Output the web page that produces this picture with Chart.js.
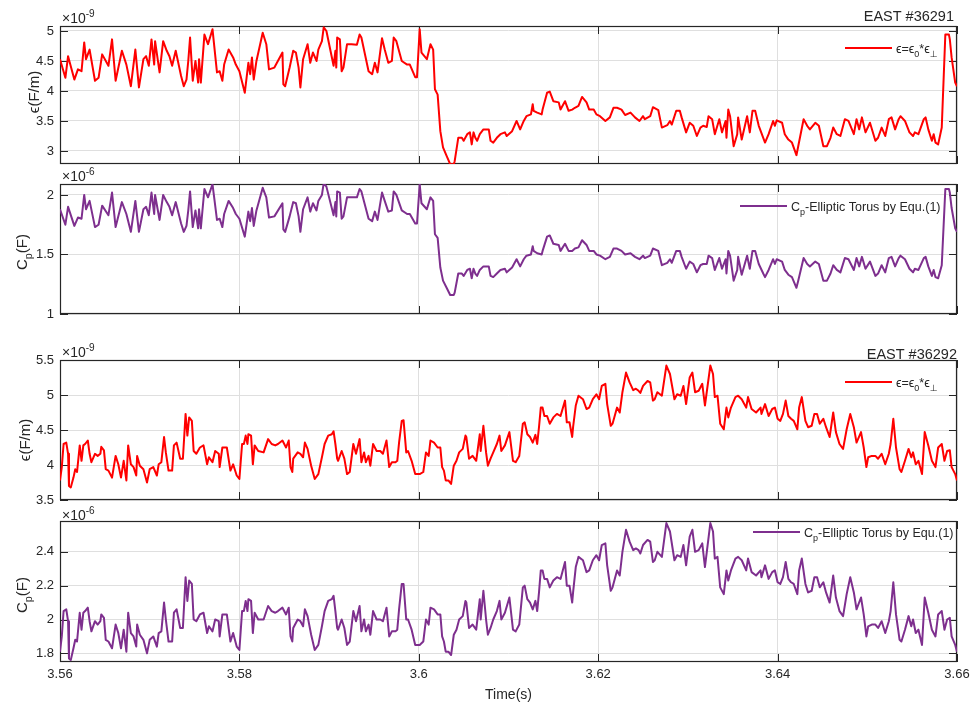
<!DOCTYPE html>
<html>
<head>
<meta charset="utf-8">
<script src="https://cdn.jsdelivr.net/npm/chart.js@4.4.0/dist/chart.umd.min.js"></script>
<style>
  html, body { margin: 0; padding: 0; background: #fff; }
  #wrap { position: relative; width: 975px; height: 705px; }
  #wrap canvas { position: absolute; left: 0; top: 0; }
</style>
</head>
<body>
<div id="wrap">
  <canvas id="c1" width="975" height="705"></canvas>
  <canvas id="c2" width="975" height="705"></canvas>
  <canvas id="c3" width="975" height="705"></canvas>
  <canvas id="c4" width="975" height="705"></canvas>
</div>
<script>
// shot EAST #36291 (time in s, eps in 1e-9 F/m, Cp in 1e-6 F)
const t36291 = [
  3.5600, 3.5606, 3.5609, 3.5616, 3.5620, 3.5624, 3.5627, 3.5629, 3.5633, 3.5639,
  3.5643, 3.5647, 3.5654, 3.5658, 3.5662, 3.5669, 3.5674, 3.5679, 3.5684, 3.5688,
  3.5693, 3.5696, 3.5699, 3.5702, 3.5705, 3.5706, 3.5711, 3.5715, 3.5719, 3.5722,
  3.5725, 3.5729, 3.5735, 3.5738, 3.5741, 3.5743, 3.5745, 3.5748, 3.5751, 3.5754,
  3.5755, 3.5757, 3.5761, 3.5765, 3.5770, 3.5775, 3.5778, 3.5781, 3.5783, 3.5788,
  3.5793, 3.5796, 3.5800, 3.5806, 3.5810, 3.5812, 3.5814, 3.5816, 3.5819, 3.5826,
  3.5830, 3.5833, 3.5839, 3.5848, 3.5849, 3.5851, 3.5856, 3.5860, 3.5863, 3.5866,
  3.5868, 3.5871, 3.5876, 3.5879, 3.5882, 3.5886, 3.5888, 3.5892, 3.5894, 3.5897,
  3.5905, 3.5907, 3.5908, 3.5909, 3.5912, 3.5914, 3.5916, 3.5920, 3.5925, 3.5931,
  3.5934, 3.5936, 3.5944, 3.5948, 3.5951, 3.5954, 3.5959, 3.5962, 3.5966, 3.5970,
  3.5972, 3.5975, 3.5981, 3.5987, 3.5990, 3.5996, 3.5998, 3.6001, 3.6003, 3.6009,
  3.6013, 3.6016, 3.6018, 3.6021, 3.6024, 3.6027, 3.6031, 3.6035, 3.6039, 3.6040,
  3.6044, 3.6048, 3.6050, 3.6054, 3.6057, 3.6059, 3.6061, 3.6063, 3.6065, 3.6068,
  3.6072, 3.6078, 3.6080, 3.6083, 3.6087, 3.6091, 3.6096, 3.6098, 3.6104, 3.6109,
  3.6113, 3.6117, 3.6120, 3.6125, 3.6127, 3.6128, 3.6132, 3.6137, 3.6138, 3.6143,
  3.6146, 3.6150, 3.6156, 3.6158, 3.6163, 3.6167, 3.6171, 3.6174, 3.6178, 3.6182,
  3.6187, 3.6190, 3.6195, 3.6198, 3.6202, 3.6208, 3.6213, 3.6217, 3.6221, 3.6226,
  3.6230, 3.6236, 3.6241, 3.6246, 3.6250, 3.6252, 3.6258, 3.6261, 3.6267, 3.6271,
  3.6277, 3.6280, 3.6282, 3.6287, 3.6291, 3.6293, 3.6298, 3.6302, 3.6306, 3.6310,
  3.6314, 3.6317, 3.6321, 3.6323, 3.6327, 3.6330, 3.6335, 3.6338, 3.6342, 3.6343,
  3.6345, 3.6347, 3.6351, 3.6355, 3.6356, 3.6360, 3.6366, 3.6369, 3.6372, 3.6375,
  3.6379, 3.6384, 3.6386, 3.6390, 3.6395, 3.6397, 3.6399, 3.6405, 3.6408, 3.6412,
  3.6416, 3.6421, 3.6423, 3.6429, 3.6433, 3.6436, 3.6442, 3.6446, 3.6451, 3.6455,
  3.6459, 3.6462, 3.6466, 3.6470, 3.6475, 3.6479, 3.6485, 3.6488, 3.6491, 3.6494,
  3.6498, 3.6503, 3.6509, 3.6512, 3.6516, 3.6520, 3.6524, 3.6527, 3.6531, 3.6535,
  3.6537, 3.6542, 3.6547, 3.6551, 3.6553, 3.6557, 3.6563, 3.6565, 3.6568, 3.6572,
  3.6574, 3.6576, 3.6579, 3.6583, 3.6587, 3.6591, 3.6592, 3.6594, 3.6598, 3.6600
];
const eps36291 = [
  4.53, 4.22, 4.58, 4.19, 4.36, 4.33, 4.81, 4.53, 4.69, 4.17,
  4.22, 4.61, 4.42, 4.86, 4.17, 4.67, 4.44, 4.08, 4.69, 4.06,
  4.53, 4.58, 4.42, 4.86, 4.44, 4.83, 4.31, 4.83, 4.67, 4.58,
  4.42, 4.67, 4.25, 4.08, 4.19, 4.50, 4.89, 4.17, 4.50, 4.14,
  4.53, 4.14, 4.94, 4.78, 5.03, 4.31, 4.33, 4.17, 4.44, 4.69,
  4.56, 4.44, 4.33, 3.97, 4.47, 4.28, 4.56, 4.19, 4.50, 4.97,
  4.78, 4.36, 4.39, 4.64, 4.11, 4.08, 4.39, 4.67, 4.64, 4.39,
  4.06, 4.53, 4.78, 4.47, 4.64, 4.50, 4.69, 4.83, 5.06, 5.00,
  4.42, 4.67, 4.39, 4.89, 4.86, 4.33, 4.39, 4.78, 4.78, 4.77,
  4.94, 4.89, 4.33, 4.28, 4.47, 4.31, 4.88, 4.69, 4.47, 4.50,
  4.89, 4.83, 4.50, 4.44, 4.44, 4.23, 4.23, 5.03, 4.64, 4.53,
  4.78, 4.69, 4.03, 3.94, 3.33, 3.06, 2.92, 2.78, 2.78, 2.83,
  3.22, 3.22, 3.17, 3.28, 3.31, 3.11, 3.31, 3.22, 3.17, 3.28,
  3.36, 3.36, 3.17, 3.14, 3.22, 3.28, 3.31, 3.25, 3.33, 3.50,
  3.36, 3.50, 3.58, 3.61, 3.78, 3.67, 3.64, 3.61, 3.69, 3.97,
  3.99, 3.83, 3.81, 3.69, 3.83, 3.67, 3.69, 3.72, 3.75, 3.90,
  3.81, 3.69, 3.69, 3.61, 3.58, 3.50, 3.56, 3.72, 3.72, 3.69,
  3.60, 3.64, 3.56, 3.50, 3.58, 3.53, 3.58, 3.73, 3.68, 3.39,
  3.43, 3.50, 3.44, 3.67, 3.67, 3.56, 3.31, 3.47, 3.42, 3.25,
  3.39, 3.42, 3.40, 3.58, 3.53, 3.28, 3.53, 3.31, 3.50, 3.22,
  3.69, 3.58, 3.08, 3.28, 3.56, 3.19, 3.58, 3.31, 3.67, 3.67,
  3.42, 3.22, 3.14, 3.28, 3.50, 3.42, 3.51, 3.47, 3.28, 3.19,
  3.14, 2.93, 3.08, 3.53, 3.42, 3.36, 3.47, 3.42, 3.08, 3.08,
  3.22, 3.39, 3.28, 3.25, 3.53, 3.50, 3.28, 3.53, 3.36, 3.56,
  3.31, 3.47, 3.17, 3.22, 3.39, 3.25, 3.53, 3.56, 3.36, 3.53,
  3.58, 3.50, 3.31, 3.25, 3.31, 3.28, 3.53, 3.56, 3.36, 3.17,
  3.28, 3.14, 3.11, 3.39, 4.94, 4.94, 4.86, 4.56, 4.14, 4.08
];
const cp36291 = [
  1.88, 1.75, 1.90, 1.74, 1.81, 1.80, 2.00, 1.88, 1.95, 1.73,
  1.75, 1.91, 1.83, 2.02, 1.73, 1.94, 1.84, 1.69, 1.95, 1.69,
  1.88, 1.90, 1.83, 2.02, 1.84, 2.00, 1.79, 2.00, 1.94, 1.90,
  1.83, 1.94, 1.76, 1.69, 1.74, 1.87, 2.03, 1.73, 1.87, 1.72,
  1.88, 1.72, 2.05, 1.98, 2.09, 1.79, 1.80, 1.73, 1.84, 1.95,
  1.89, 1.84, 1.80, 1.65, 1.86, 1.78, 1.89, 1.74, 1.87, 2.06,
  1.98, 1.81, 1.82, 1.93, 1.71, 1.69, 1.82, 1.94, 1.93, 1.82,
  1.69, 1.88, 1.98, 1.86, 1.93, 1.87, 1.95, 2.00, 2.10, 2.07,
  1.83, 1.94, 1.82, 2.03, 2.02, 1.80, 1.82, 1.98, 1.98, 1.98,
  2.05, 2.03, 1.80, 1.78, 1.86, 1.79, 2.02, 1.95, 1.86, 1.87,
  2.03, 2.00, 1.87, 1.84, 1.84, 1.76, 1.76, 2.09, 1.93, 1.88,
  1.98, 1.95, 1.67, 1.64, 1.39, 1.28, 1.22, 1.16, 1.16, 1.18,
  1.34, 1.34, 1.32, 1.37, 1.38, 1.30, 1.38, 1.34, 1.32, 1.37,
  1.40, 1.40, 1.32, 1.31, 1.34, 1.37, 1.38, 1.35, 1.39, 1.46,
  1.40, 1.46, 1.49, 1.50, 1.57, 1.53, 1.51, 1.50, 1.53, 1.65,
  1.66, 1.59, 1.58, 1.53, 1.59, 1.53, 1.53, 1.55, 1.56, 1.62,
  1.58, 1.53, 1.53, 1.50, 1.49, 1.46, 1.48, 1.55, 1.55, 1.53,
  1.50, 1.51, 1.48, 1.46, 1.49, 1.47, 1.49, 1.55, 1.53, 1.41,
  1.43, 1.46, 1.43, 1.53, 1.53, 1.48, 1.38, 1.44, 1.42, 1.35,
  1.41, 1.42, 1.42, 1.49, 1.47, 1.37, 1.47, 1.38, 1.46, 1.34,
  1.53, 1.49, 1.28, 1.37, 1.48, 1.33, 1.49, 1.38, 1.53, 1.53,
  1.42, 1.34, 1.31, 1.37, 1.46, 1.42, 1.46, 1.44, 1.37, 1.33,
  1.31, 1.22, 1.28, 1.47, 1.42, 1.40, 1.44, 1.42, 1.28, 1.28,
  1.34, 1.41, 1.37, 1.35, 1.47, 1.46, 1.37, 1.47, 1.40, 1.48,
  1.38, 1.44, 1.32, 1.34, 1.41, 1.35, 1.47, 1.48, 1.40, 1.47,
  1.49, 1.46, 1.38, 1.35, 1.38, 1.37, 1.47, 1.48, 1.40, 1.32,
  1.37, 1.31, 1.30, 1.41, 2.05, 2.05, 2.02, 1.89, 1.72, 1.69
];

// shot EAST #36292
const t36292 = [
  3.5600, 3.5602, 3.5604, 3.5607, 3.5609, 3.5610, 3.5612, 3.5615, 3.5617, 3.5619,
  3.5622, 3.5624, 3.5626, 3.5628, 3.5631, 3.5633, 3.5635, 3.5639, 3.5642, 3.5645,
  3.5646, 3.5649, 3.5651, 3.5654, 3.5658, 3.5662, 3.5665, 3.5668, 3.5671, 3.5674,
  3.5676, 3.5679, 3.5682, 3.5685, 3.5686, 3.5689, 3.5693, 3.5697, 3.5700, 3.5704,
  3.5708, 3.5710, 3.5713, 3.5716, 3.5718, 3.5721, 3.5725, 3.5727, 3.5730, 3.5734,
  3.5737, 3.5740, 3.5742, 3.5744, 3.5747, 3.5749, 3.5752, 3.5756, 3.5760, 3.5764,
  3.5766, 3.5770, 3.5773, 3.5777, 3.5778, 3.5781, 3.5786, 3.5790, 3.5793, 3.5797,
  3.5800, 3.5803, 3.5805, 3.5807, 3.5809, 3.5810, 3.5813, 3.5815, 3.5817, 3.5821,
  3.5827, 3.5832, 3.5836, 3.5840, 3.5843, 3.5848, 3.5852, 3.5855, 3.5857, 3.5859,
  3.5860, 3.5865, 3.5868, 3.5871, 3.5873, 3.5876, 3.5880, 3.5884, 3.5888, 3.5892,
  3.5895, 3.5899, 3.5903, 3.5905, 3.5907, 3.5909, 3.5910, 3.5914, 3.5917, 3.5920,
  3.5923, 3.5927, 3.5930, 3.5934, 3.5936, 3.5939, 3.5941, 3.5944, 3.5946, 3.5949,
  3.5953, 3.5957, 3.5960, 3.5964, 3.5967, 3.5970, 3.5974, 3.5976, 3.5978, 3.5981,
  3.5983, 3.5986, 3.5988, 3.5992, 3.5996, 3.6001, 3.6005, 3.6008, 3.6011, 3.6013,
  3.6017, 3.6021, 3.6024, 3.6026, 3.6028, 3.6030, 3.6033, 3.6036, 3.6039, 3.6042,
  3.6045, 3.6049, 3.6052, 3.6053, 3.6056, 3.6060, 3.6064, 3.6068, 3.6069, 3.6072,
  3.6075, 3.6077, 3.6080, 3.6083, 3.6087, 3.6090, 3.6092, 3.6096, 3.6101, 3.6105,
  3.6108, 3.6112, 3.6116, 3.6118, 3.6121, 3.6124, 3.6127, 3.6130, 3.6132, 3.6134,
  3.6136, 3.6138, 3.6140, 3.6143, 3.6146, 3.6150, 3.6154, 3.6158, 3.6163, 3.6165,
  3.6168, 3.6171, 3.6172, 3.6175, 3.6178, 3.6183, 3.6187, 3.6190, 3.6194, 3.6198,
  3.6201, 3.6204, 3.6208, 3.6210, 3.6214, 3.6216, 3.6221, 3.6224, 3.6227, 3.6231,
  3.6235, 3.6239, 3.6242, 3.6245, 3.6247, 3.6250, 3.6255, 3.6258, 3.6261, 3.6263,
  3.6266, 3.6271, 3.6276, 3.6280, 3.6285, 3.6288, 3.6292, 3.6295, 3.6298, 3.6302,
  3.6305, 3.6308, 3.6312, 3.6316, 3.6319, 3.6325, 3.6328, 3.6330, 3.6333, 3.6336,
  3.6340, 3.6343, 3.6345, 3.6348, 3.6353, 3.6356, 3.6360, 3.6365, 3.6367, 3.6371,
  3.6376, 3.6381, 3.6382, 3.6386, 3.6390, 3.6394, 3.6397, 3.6400, 3.6403, 3.6406,
  3.6409, 3.6412, 3.6415, 3.6418, 3.6422, 3.6424, 3.6427, 3.6431, 3.6434, 3.6438,
  3.6441, 3.6444, 3.6447, 3.6451, 3.6454, 3.6458, 3.6462, 3.6465, 3.6469, 3.6473,
  3.6477, 3.6481, 3.6485, 3.6488, 3.6493, 3.6496, 3.6499, 3.6501, 3.6505, 3.6509,
  3.6512, 3.6516, 3.6520, 3.6524, 3.6526, 3.6529, 3.6532, 3.6536, 3.6538, 3.6542,
  3.6546, 3.6549, 3.6551, 3.6554, 3.6557, 3.6561, 3.6564, 3.6568, 3.6572, 3.6576,
  3.6579, 3.6583, 3.6586, 3.6589, 3.6592, 3.6594, 3.6598, 3.6600
];
const eps36292 = [
  3.78, 3.97, 4.30, 4.32, 4.16, 3.70, 3.68, 3.82, 3.94, 3.90,
  4.28, 4.06, 4.28, 4.30, 4.35, 4.16, 4.04, 4.16, 4.13, 4.16,
  4.26, 4.21, 3.94, 3.92, 3.82, 4.13, 4.01, 3.82, 4.06, 3.78,
  4.28, 4.01, 3.97, 3.85, 4.13, 3.99, 3.94, 3.75, 3.94, 3.97,
  3.85, 4.01, 4.04, 4.40, 4.18, 3.92, 3.92, 4.28, 4.32, 4.09,
  4.09, 4.73, 4.42, 4.68, 4.63, 4.20, 4.16, 4.25, 4.28, 4.01,
  4.11, 4.04, 4.20, 4.16, 3.97, 4.25, 4.25, 3.92, 4.01, 3.85,
  3.80, 4.30, 4.30, 4.42, 4.30, 4.44, 4.42, 4.01, 4.28, 4.20,
  4.18, 4.37, 4.30, 4.28, 4.30, 4.35, 4.25, 4.35, 3.97, 3.90,
  4.09, 4.18, 4.16, 4.11, 4.32, 4.23, 3.99, 3.80, 3.87, 4.11,
  4.30, 4.42, 4.44, 4.48, 4.30, 4.09, 4.06, 4.20, 4.09, 3.87,
  3.90, 4.30, 4.16, 4.37, 4.04, 4.18, 4.04, 4.13, 3.99, 4.30,
  4.20, 4.20, 4.16, 4.35, 3.97, 4.04, 4.04, 4.06, 4.32, 4.63,
  4.64, 4.18, 4.20, 4.06, 3.87, 3.87, 3.90, 4.18, 4.13, 4.35,
  4.32, 4.25, 4.25, 3.97, 3.92, 3.78, 3.78, 3.73, 3.99, 4.06,
  4.18, 4.23, 4.42, 4.40, 4.09, 4.13, 4.06, 4.44, 4.20, 4.56,
  4.18, 3.99, 4.09, 4.18, 4.30, 4.42, 4.20, 4.28, 4.47, 4.06,
  4.04, 4.13, 4.59, 4.61, 4.44, 4.40, 4.32, 4.43, 4.30, 4.54,
  4.82, 4.82, 4.70, 4.70, 4.59, 4.68, 4.73, 4.70, 4.92, 4.61,
  4.61, 4.40, 4.54, 4.85, 4.99, 4.94, 4.80, 4.82, 4.94, 5.01,
  4.94, 5.13, 5.16, 4.87, 4.56, 4.59, 4.82, 4.75, 5.04, 5.32,
  5.18, 5.07, 5.09, 5.06, 5.03, 5.13, 5.20, 5.18, 4.92, 4.94,
  5.04, 4.99, 5.42, 5.30, 4.94, 5.01, 4.99, 5.13, 4.87, 5.25,
  5.32, 5.04, 5.06, 5.16, 4.85, 5.42, 5.30, 4.97, 4.99, 4.59,
  4.51, 4.82, 4.68, 4.82, 4.97, 4.99, 4.94, 4.82, 4.97, 4.80,
  4.75, 4.82, 4.73, 4.87, 4.70, 4.80, 4.82, 4.66, 4.63, 4.73,
  4.92, 4.70, 4.66, 4.63, 4.51, 4.82, 4.97, 4.63, 4.54, 4.56,
  4.73, 4.73, 4.59, 4.66, 4.54, 4.40, 4.75, 4.47, 4.30, 4.23,
  4.51, 4.73, 4.54, 4.32, 4.47, 4.25, 3.97, 4.11, 4.13, 4.13,
  4.09, 4.16, 4.01, 4.16, 4.30, 4.66, 4.25, 3.94, 3.90, 4.06,
  4.23, 4.11, 4.18, 4.01, 4.06, 3.87, 4.47, 4.28, 4.06, 3.97,
  4.25, 4.30, 4.06, 4.20, 4.21, 3.97, 3.87, 3.78
];
const cp36292 = [
  1.81, 1.90, 2.05, 2.06, 1.99, 1.77, 1.76, 1.83, 1.88, 1.87,
  2.04, 1.94, 2.04, 2.05, 2.07, 1.99, 1.93, 1.99, 1.97, 1.99,
  2.03, 2.01, 1.88, 1.87, 1.83, 1.97, 1.92, 1.83, 1.94, 1.81,
  2.04, 1.92, 1.90, 1.84, 1.97, 1.91, 1.88, 1.80, 1.88, 1.90,
  1.84, 1.92, 1.93, 2.10, 2.00, 1.87, 1.87, 2.04, 2.06, 1.95,
  1.95, 2.25, 2.11, 2.23, 2.21, 2.00, 1.99, 2.03, 2.04, 1.92,
  1.96, 1.93, 2.00, 1.99, 1.90, 2.03, 2.03, 1.87, 1.92, 1.84,
  1.82, 2.05, 2.05, 2.11, 2.05, 2.12, 2.11, 1.92, 2.04, 2.00,
  2.00, 2.08, 2.05, 2.04, 2.05, 2.07, 2.03, 2.07, 1.90, 1.87,
  1.95, 2.00, 1.99, 1.96, 2.06, 2.02, 1.91, 1.82, 1.85, 1.96,
  2.05, 2.11, 2.12, 2.14, 2.05, 1.95, 1.94, 2.00, 1.95, 1.85,
  1.87, 2.05, 1.99, 2.08, 1.93, 2.00, 1.93, 1.97, 1.91, 2.05,
  2.00, 2.00, 1.99, 2.07, 1.90, 1.93, 1.93, 1.94, 2.06, 2.21,
  2.21, 2.00, 2.00, 1.94, 1.85, 1.85, 1.87, 2.00, 1.97, 2.07,
  2.06, 2.03, 2.03, 1.90, 1.87, 1.81, 1.81, 1.79, 1.91, 1.94,
  2.00, 2.02, 2.11, 2.10, 1.95, 1.97, 1.94, 2.12, 2.00, 2.17,
  2.00, 1.91, 1.95, 2.00, 2.05, 2.11, 2.00, 2.04, 2.13, 1.94,
  1.93, 1.97, 2.19, 2.20, 2.12, 2.10, 2.06, 2.11, 2.05, 2.16,
  2.29, 2.29, 2.24, 2.24, 2.19, 2.23, 2.25, 2.24, 2.34, 2.20,
  2.20, 2.10, 2.16, 2.31, 2.37, 2.35, 2.28, 2.29, 2.35, 2.38,
  2.35, 2.44, 2.45, 2.32, 2.17, 2.19, 2.29, 2.26, 2.40, 2.53,
  2.46, 2.41, 2.42, 2.41, 2.39, 2.44, 2.47, 2.46, 2.34, 2.35,
  2.40, 2.37, 2.57, 2.52, 2.35, 2.38, 2.37, 2.44, 2.32, 2.49,
  2.53, 2.40, 2.41, 2.45, 2.31, 2.57, 2.52, 2.36, 2.37, 2.19,
  2.15, 2.29, 2.23, 2.29, 2.36, 2.37, 2.35, 2.29, 2.36, 2.28,
  2.26, 2.29, 2.25, 2.32, 2.24, 2.28, 2.29, 2.22, 2.21, 2.25,
  2.34, 2.24, 2.22, 2.21, 2.15, 2.29, 2.36, 2.21, 2.16, 2.17,
  2.25, 2.25, 2.19, 2.22, 2.16, 2.10, 2.26, 2.13, 2.05, 2.02,
  2.15, 2.25, 2.16, 2.06, 2.13, 2.03, 1.90, 1.96, 1.97, 1.97,
  1.95, 1.99, 1.92, 1.99, 2.05, 2.22, 2.03, 1.88, 1.87, 1.94,
  2.02, 1.96, 2.00, 1.92, 1.94, 1.85, 2.13, 2.04, 1.94, 1.90,
  2.03, 2.05, 1.94, 2.00, 2.01, 1.90, 1.85, 1.81
];

// tick labels
const timeTicks = [3.56, 3.58, 3.6, 3.62, 3.64, 3.66];
const epsTicksA = [3, 3.5, 4, 4.5, 5];
const cpTicksA = [1, 1.5, 2];
const epsTicksB = [3.5, 4, 4.5, 5, 5.5];
const cpTicksB = [1.8, 2, 2.2, 2.4];

const FONT = '"Liberation Sans", Arial, "DejaVu Sans", sans-serif';
const INK = '#262626';
const GRID = '#dfdfdf';
const RED = '#ff0000';
const PURPLE = '#7e2f8e';

// draws a text made of parts: [text, 0 normal | 1 subscript | 2 superscript]
function drawRich(ctx, parts, x, y, size, align) {
  const widths = parts.map(([s, k]) => {
    ctx.font = (k ? size * 0.72 : size) + 'px ' + FONT;
    return ctx.measureText(s).width;
  });
  const total = widths.reduce((a, b) => a + b, 0);
  let cx = align === 'center' ? x - total / 2 : align === 'right' ? x - total : x;
  ctx.textAlign = 'left';
  ctx.textBaseline = 'alphabetic';
  parts.forEach(([s, k], i) => {
    ctx.font = (k ? size * 0.72 : size) + 'px ' + FONT;
    const dy = k === 1 ? size * 0.32 : k === 2 ? -size * 0.42 : 0;
    ctx.fillText(s, cx, y + dy);
    cx += widths[i];
  });
}

// MATLAB-like box, inward ticks, labels and legend
function decor(p) {
  return {
    id: 'decor',
    beforeDatasetsDraw(chart) {
      const { ctx, chartArea: a, scales } = chart;
      const tick = 8;
      ctx.save();
      ctx.strokeStyle = INK;
      ctx.lineWidth = 1;
      ctx.beginPath();
      scales.x.ticks.forEach(tk => {
        const px = Math.round(scales.x.getPixelForValue(tk.value)) + 0.5;
        ctx.moveTo(px, a.top); ctx.lineTo(px, a.top + tick);
        ctx.moveTo(px, a.bottom); ctx.lineTo(px, a.bottom - tick);
      });
      scales.y.ticks.forEach(tk => {
        const py = Math.round(scales.y.getPixelForValue(tk.value)) + 0.5;
        ctx.moveTo(a.left, py); ctx.lineTo(a.left + tick, py);
        ctx.moveTo(a.right, py); ctx.lineTo(a.right - tick, py);
      });
      ctx.stroke();
      ctx.lineWidth = 1.2;
      ctx.strokeRect(a.left + 0.5, a.top + 0.5, a.right - a.left - 1, a.bottom - a.top - 1);
      ctx.restore();
    },
    afterDraw(chart) {
      const { ctx, chartArea: a } = chart;
      ctx.save();
      ctx.fillStyle = INK;
      // exponent above the y axis
      drawRich(ctx, [['\u00d710', 0], [p.exp, 2]], a.left + 2, p.expY, 14, 'left');
      // shot title
      if (p.title) {
        ctx.font = '14.5px ' + FONT;
        ctx.textAlign = 'right';
        ctx.textBaseline = 'alphabetic';
        ctx.fillText(p.title, p.titleX, p.titleY);
      }
      // y label
      ctx.save();
      ctx.translate(p.ylabelX, p.ylabelY);
      ctx.rotate(-Math.PI / 2);
      drawRich(ctx, p.ylabel, 0, 0, 15, 'center');
      ctx.restore();
      // x label
      if (p.showX) {
        ctx.font = '14px ' + FONT;
        ctx.textAlign = 'center';
        ctx.textBaseline = 'alphabetic';
        ctx.fillText('Time(s)', (a.left + a.right) / 2, 699);
      }
      // legend
      ctx.strokeStyle = p.color;
      ctx.lineWidth = 2;
      ctx.beginPath();
      ctx.moveTo(p.legX, p.legY);
      ctx.lineTo(p.legX + 47, p.legY);
      ctx.stroke();
      ctx.fillStyle = INK;
      drawRich(ctx, p.legend, p.legX + 51, p.legY + 4.5, p.legSize, 'left');
      ctx.restore();
    }
  };
}

function makePanel(p) {
  const points = p.times.map((t, i) => ({ x: t, y: p.values[i] }));
  const xH = p.showX ? 40 : 0;
  return new Chart(document.getElementById(p.id), {
    type: 'line',
    data: {
      datasets: [{
        data: points,
        borderColor: p.color,
        borderWidth: 2,
        pointRadius: 0,
        tension: 0,
        fill: false,
        borderJoinStyle: 'round'
      }]
    },
    options: {
      responsive: false,
      animation: false,
      devicePixelRatio: 1,
      layout: { padding: { left: 0, right: 975 - 957, top: p.top, bottom: 705 - p.bottom - xH } },
      plugins: { legend: { display: false }, tooltip: { enabled: false } },
      scales: {
        x: {
          type: 'linear',
          min: 3.56,
          max: 3.66,
          afterBuildTicks: s => { s.ticks = timeTicks.map(v => ({ value: v })); },
          afterFit: s => { s.height = xH; },
          ticks: {
            display: p.showX,
            padding: 5,
            color: INK,
            font: { family: FONT, size: 13 },
            maxRotation: 0,
            callback: v => String(v)
          },
          grid: { color: GRID, lineWidth: 1, drawTicks: false },
          border: { display: false }
        },
        y: {
          min: p.yMin,
          max: p.yMax,
          afterBuildTicks: s => { s.ticks = p.yTicks.map(v => ({ value: v })); },
          afterFit: s => { s.width = 60; },
          ticks: {
            padding: 6,
            color: INK,
            font: { family: FONT, size: 13 },
            callback: v => String(v)
          },
          grid: { color: GRID, lineWidth: 1, drawTicks: false },
          border: { display: false }
        }
      }
    },
    plugins: [decor(p)]
  });
}

const epsLegend = [['\u03f5=\u03f5', 0], ['0', 1], ['*\u03f5', 0], ['\u22a5', 1]];
const cpLegend = [['C', 0], ['p', 1], ['-Elliptic Torus by Equ.(1)', 0]];
const epsLabel = [['\u03f5(F/m)', 0]];
const cpLabel = [['C', 0], ['p', 1], ['(F)', 0]];

makePanel({
  id: 'c1', times: t36291, values: eps36291, color: RED,
  top: 26, bottom: 164, yMin: 2.783, yMax: 5.083, yTicks: epsTicksA, showX: false,
  exp: '-9', expY: 23, title: 'EAST #36291', titleX: 954, titleY: 21,
  ylabel: epsLabel, ylabelX: 39, ylabelY: 92,
  legend: epsLegend, legX: 845, legY: 48, legSize: 12.5
});
makePanel({
  id: 'c2', times: t36291, values: cp36291, color: PURPLE,
  top: 184, bottom: 314, yMin: 1, yMax: 2.092, yTicks: cpTicksA, showX: false,
  exp: '-6', expY: 181, title: null,
  ylabel: cpLabel, ylabelX: 27, ylabelY: 252,
  legend: cpLegend, legX: 740, legY: 206, legSize: 12.5
});
makePanel({
  id: 'c3', times: t36292, values: eps36292, color: RED,
  top: 360, bottom: 500, yMin: 3.5, yMax: 5.5, yTicks: epsTicksB, showX: false,
  exp: '-9', expY: 357, title: 'EAST #36292', titleX: 957, titleY: 359,
  ylabel: epsLabel, ylabelX: 30, ylabelY: 440,
  legend: epsLegend, legX: 845, legY: 382, legSize: 12.5
});
makePanel({
  id: 'c4', times: t36292, values: cp36292, color: PURPLE,
  top: 521, bottom: 662, yMin: 1.749, yMax: 2.582, yTicks: cpTicksB, showX: true,
  exp: '-6', expY: 520, title: null,
  ylabel: cpLabel, ylabelX: 27, ylabelY: 595,
  legend: cpLegend, legX: 753, legY: 532, legSize: 12.5
});
</script>
</body>
</html>
